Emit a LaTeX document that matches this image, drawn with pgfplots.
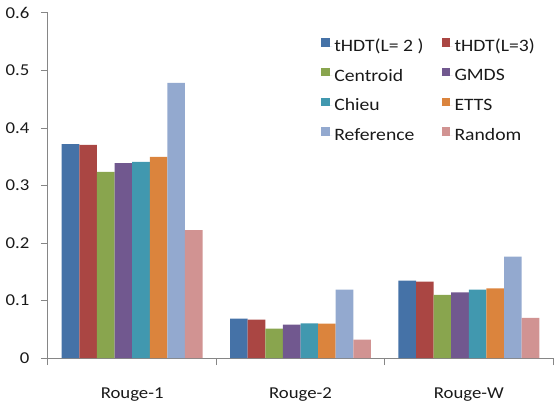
\documentclass[border=0pt]{standalone}
\usepackage{pgfplots}
\pgfplotsset{compat=1.18}
\usepackage{fontspec}
\setmainfont{Carlito}[FakeStretch=1.13]

\definecolor{cA}{HTML}{4572A7}
\definecolor{cB}{HTML}{AA4643}
\definecolor{cC}{HTML}{89A54E}
\definecolor{cD}{HTML}{71588F}
\definecolor{cE}{HTML}{4198AF}
\definecolor{cF}{HTML}{DB843D}
\definecolor{cG}{HTML}{93A9CF}
\definecolor{cH}{HTML}{D19392}
\definecolor{axgray}{HTML}{868686}

\newcommand{\chartfont}{\fontsize{16.6}{20}\selectfont}
\newcommand{\legendfont}{\fontsize{17.4}{20}\selectfont}

\begin{document}
\begin{tikzpicture}
\begin{axis}[
    scale only axis,
    width=505pt, height=345pt,
    ybar=0pt,
    bar width=0.1046,
    xmin=-0.5, xmax=2.5,
    ymin=0, ymax=0.6,
    ytick={0,0.1,0.2,0.3,0.4,0.5,0.6},
    yticklabel style={/pgf/number format/fixed, /pgf/number format/precision=1},
    /pgf/number format/assume math mode=true,
    xtick={-0.5,0.5,1.5,2.5},
    xticklabels={},
    extra x ticks={0,1,2},
    extra x tick labels={Rouge-1,Rouge-2,Rouge-W},
    extra x tick style={major tick length=0pt,
        xticklabel style={yshift=-26pt}},
    axis lines=left,
    axis line style={-, axgray, line width=1pt},
    tick align=outside,
    major tick length=7pt,
    tick style={axgray, line width=1pt},
    ticklabel style={font=\chartfont, text=black!90},
    yticklabel style={xshift=-8pt},
    legend columns=2,
    legend cell align=left,
    legend image code/.code={\fill[#1] (0pt,-0.5pt) rectangle (8.5pt,8pt);
        \path (0pt,0pt) -- (11pt,0pt);},
    legend style={at={(0.535,0.937)}, anchor=north west, draw=none, fill=none,
        font=\legendfont, text=black!90, row sep=12pt,
        /tikz/every even column/.append style={column sep=16pt}},
]
\addplot[fill=cA, draw=none] coordinates {(0,0.372) (1,0.0685) (2,0.1347)};
\addplot[fill=cB, draw=none] coordinates {(0,0.3705) (1,0.0667) (2,0.133)};
\addplot[fill=cC, draw=none] coordinates {(0,0.3235) (1,0.051) (2,0.110)};
\addplot[fill=cD, draw=none] coordinates {(0,0.339) (1,0.058) (2,0.114)};
\addplot[fill=cE, draw=none] coordinates {(0,0.341) (1,0.0603) (2,0.119)};
\addplot[fill=cF, draw=none] coordinates {(0,0.350) (1,0.060) (2,0.121)};
\addplot[fill=cG, draw=none] coordinates {(0,0.4786) (1,0.119) (2,0.1765)};
\addplot[fill=cH, draw=none] coordinates {(0,0.2225) (1,0.032) (2,0.070)};
\legend{tHDT(L= 2 ),tHDT(L=3),Centroid,GMDS,Chieu,ETTS,Reference,Random}
\coordinate (o) at (rel axis cs:0,0);
\coordinate (e) at (rel axis cs:1,1);
\end{axis}
\pgfresetboundingbox
\path ([xshift=-48pt,yshift=-44pt]o) rectangle ([xshift=3pt,yshift=13pt]e);
\end{tikzpicture}
\end{document}
